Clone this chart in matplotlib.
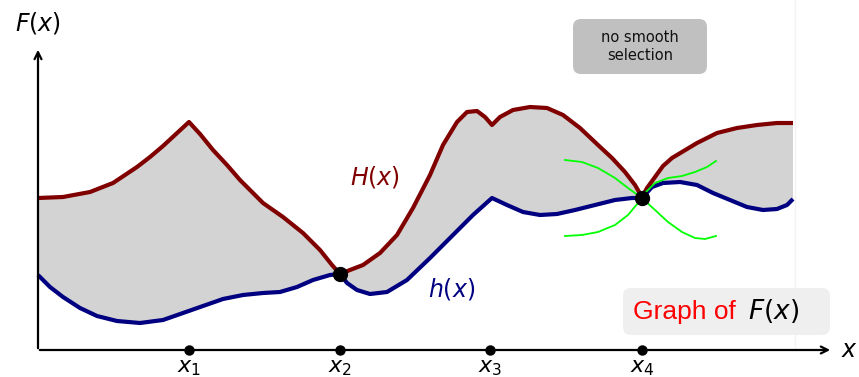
import matplotlib
matplotlib.use('Agg')
import matplotlib.pyplot as plt
from matplotlib.patches import FancyBboxPatch

plt.rcParams['mathtext.fontset'] = 'dejavusans'

# coordinate in pixel del disegno (y verso il basso)
H_x = [38, 63, 90, 113, 137, 150, 163, 176, 189, 200, 213, 227, 240, 253, 263,
       283, 303, 320, 332, 340, 350, 363, 380, 397, 413, 430, 443, 457, 467, 477,
       485, 492, 500, 513, 530, 547, 563, 580, 598, 612, 625, 635, 642, 647, 655,
       663, 672, 682, 697, 717, 737, 757, 777, 793]
H_y = [198, 197, 192, 183, 167, 157, 146, 134, 122, 134, 150, 165, 180, 193, 203,
       217, 233, 250, 265, 274, 270, 265, 253, 235, 208, 175, 145, 122, 112, 111,
       117, 125, 117, 110, 107, 108, 115, 128, 145, 158, 172, 185, 197, 188, 177,
       166, 158, 152, 143, 133, 128, 125, 123, 123]

h_x = [38, 50, 63, 80, 97, 117, 140, 163, 183, 203, 223, 243, 263, 280, 297,
       313, 330, 340, 347, 357, 370, 387, 407, 430, 453, 473, 492, 507, 523, 540,
       557, 575, 595, 615, 632, 642, 652, 663, 680, 697, 713, 730, 747, 763, 777,
       787, 793]
h_y = [275, 287, 297, 308, 316, 321, 323, 320, 313, 306, 299, 295, 293, 292, 287,
       280, 275, 274, 283, 290, 294, 292, 280, 258, 235, 215, 198, 205, 212, 215,
       214, 210, 205, 200, 198, 198, 187, 183, 182, 185, 193, 200, 207, 210, 209,
       205, 199]

# selezioni (verdi) attorno a x4
g1_x = [565, 582, 598, 615, 628, 642, 655, 668, 682, 695, 705, 716]
g1_y = [160, 162, 168, 178, 188, 198, 210, 222, 232, 238, 239, 236]
g2_x = [565, 582, 598, 615, 628, 638, 645, 655, 668, 682, 695, 707, 716]
g2_y = [236, 235, 232, 225, 215, 203, 193, 183, 178, 176, 172, 167, 161]

tick_x = [189, 340, 490, 642]
tick_labels = ['$x_1$', '$x_2$', '$x_3$', '$x_4$']
contact_x = [340, 642]
contact_y = [274, 198]

RED = '#800000'
BLUE = '#000080'

fig = plt.figure(figsize=(8.59, 3.77), dpi=100)
ax = fig.add_axes([0, 0, 1, 1])
ax.set_xlim(0, 859)
ax.set_ylim(377, 0)
ax.axis('off')

# area tra h e H
poly_x = H_x + h_x[::-1]
poly_y = H_y + h_y[::-1]
ax.fill(poly_x, poly_y, color='#d3d3d3', lw=0, zorder=1)
ax.plot([795, 795], [0, 350], color='#f3f3f3', lw=1, zorder=0)

ax.plot(H_x, H_y, color=RED, lw=3, solid_joinstyle='round', solid_capstyle='butt', zorder=3)
ax.plot(h_x, h_y, color=BLUE, lw=3, solid_joinstyle='round', solid_capstyle='butt', zorder=3)
ax.plot(g1_x, g1_y, color='#00ff00', lw=1.3, solid_joinstyle='round', zorder=4)
ax.plot(g2_x, g2_y, color='#00ff00', lw=1.3, solid_joinstyle='round', zorder=4)
ax.plot(contact_x, contact_y, 'o', color='black', ms=10, zorder=5)

# assi
ax.annotate('', xy=(833, 350), xytext=(37, 350),
            arrowprops=dict(arrowstyle='->,head_length=0.5,head_width=0.25', lw=1.6, color='black'))
ax.annotate('', xy=(38, 47), xytext=(38, 351),
            arrowprops=dict(arrowstyle='->,head_length=0.5,head_width=0.25', lw=1.6, color='black'))
ax.plot(tick_x, [350] * len(tick_x), 'o', color='black', ms=6.5, zorder=5)
for xt, lab in zip(tick_x, tick_labels):
    ax.text(xt, 358, lab, fontsize=16, ha='center', va='top')

ax.text(38, 23, '$F(x)$', fontsize=17, ha='center', va='center')
ax.text(849, 350, '$x$', fontsize=17, ha='center', va='center')
ax.text(375, 177, '$H(x)$', fontsize=17, color=RED, ha='center', va='center')
ax.text(452, 289, '$h(x)$', fontsize=17, color=BLUE, ha='center', va='center')

# riquadri
ax.add_patch(FancyBboxPatch((573, 19), 134, 55, boxstyle='round,pad=0,rounding_size=8',
                            fc='#c0c0c0', ec='none', zorder=2))
ax.text(640, 46, 'no smooth\nselection', fontsize=10.5, ha='center', va='center',
        linespacing=1.25, color='#111111', zorder=3)

ax.add_patch(FancyBboxPatch((623, 288), 207, 47, boxstyle='round,pad=0,rounding_size=8',
                            fc='#efefef', ec='none', zorder=2))
ax.text(633, 312, 'Graph of', fontsize=19, color='red', ha='left', va='center',
        family=['Liberation Sans', 'DejaVu Sans'], zorder=3)
ax.text(748, 311, '$F(x)$', fontsize=19, color='black', ha='left', va='center', zorder=3)

fig.savefig('out.png', dpi=100)
